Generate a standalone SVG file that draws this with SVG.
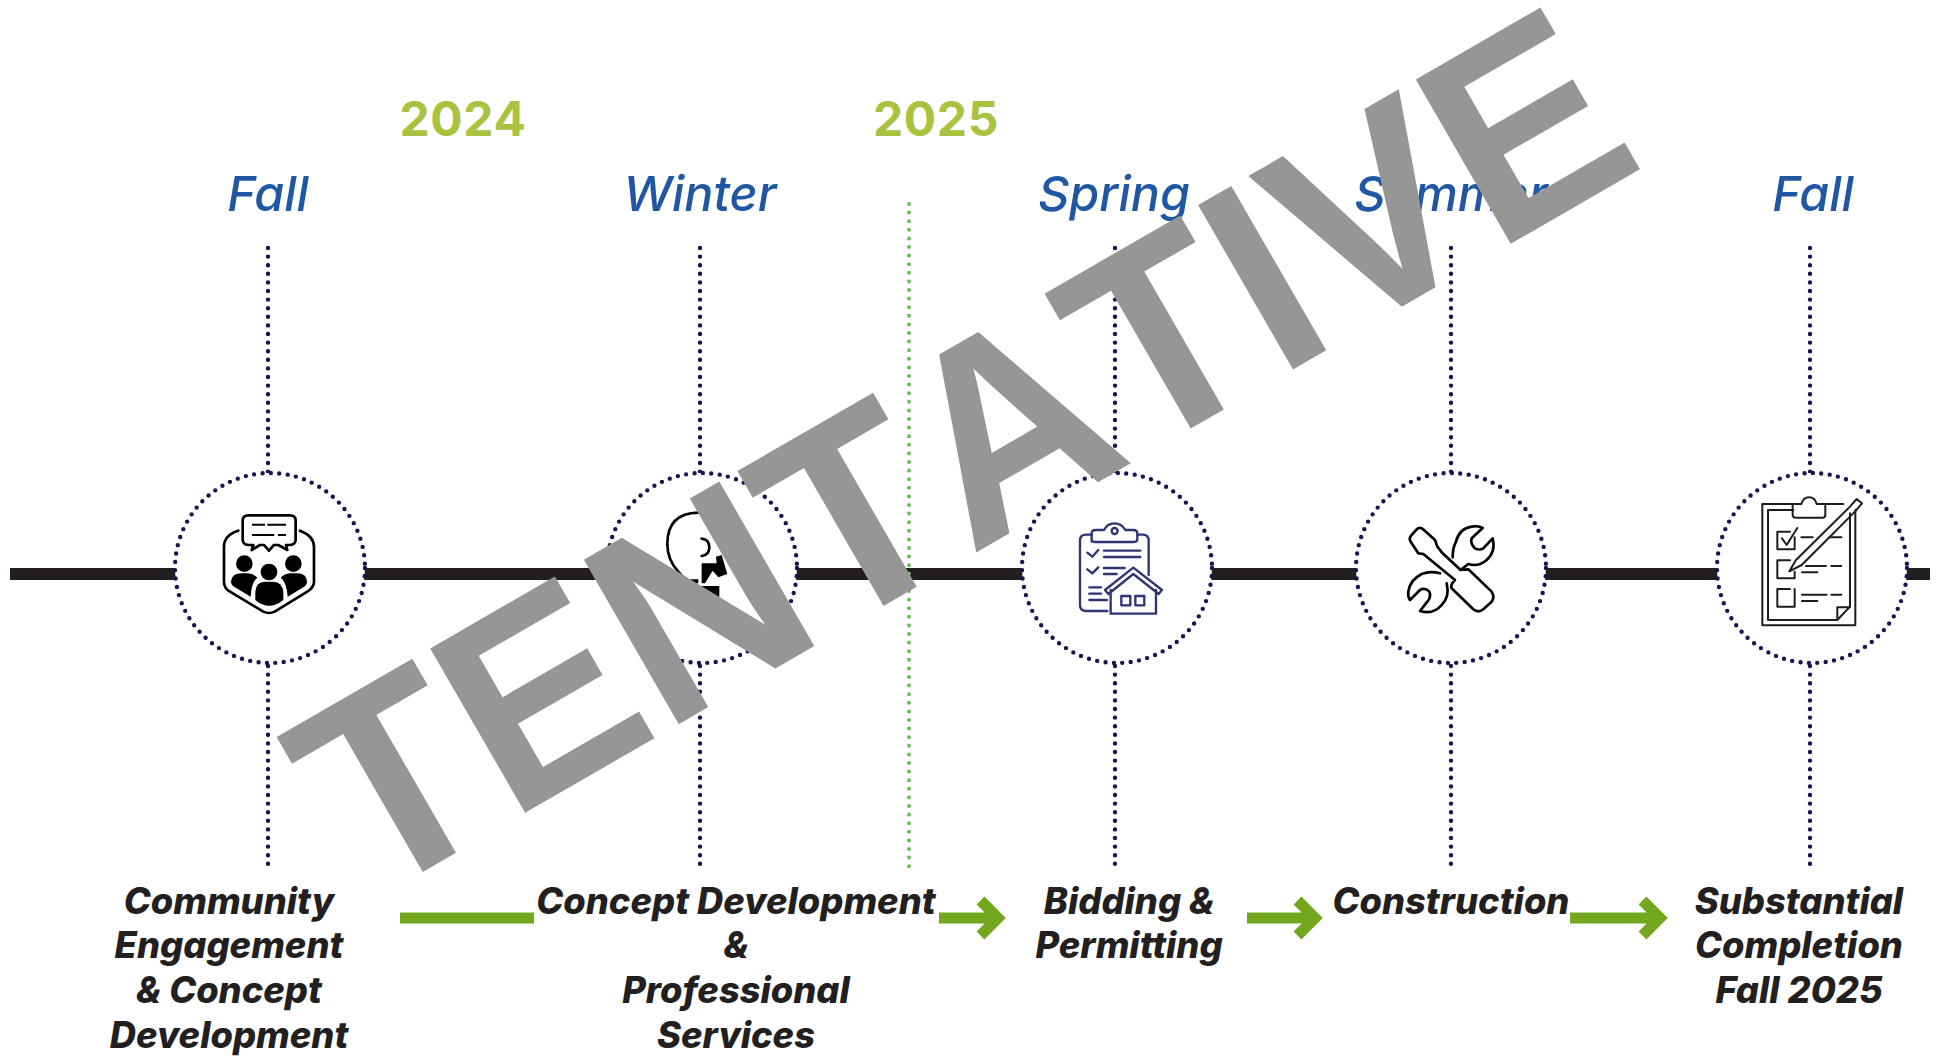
<svg xmlns="http://www.w3.org/2000/svg" width="1939" height="1056" viewBox="0 0 1939 1056">
<style>
.year{font:700 48px Inter,"Liberation Sans",sans-serif;letter-spacing:.6px;fill:#a9c23f;text-anchor:middle}
.season{font:italic 500 48.500px Inter,"Liberation Sans",sans-serif;fill:#1f57a4;text-anchor:middle}
.label{font:italic 800 36.300px Inter,"Liberation Sans",sans-serif;fill:#231f20;text-anchor:middle}
.v{stroke:#14154f;stroke-width:4.4;stroke-linecap:round;stroke-dasharray:0 8.6;fill:none}
.ring{stroke:#14154f;stroke-width:4.4;stroke-linecap:round;stroke-dasharray:0 8.45;fill:#fff}
.ar{stroke:#72a71e;stroke-width:11;fill:none;stroke-miterlimit:8}
.k{fill:none;stroke:#000;stroke-width:8;stroke-linecap:round;stroke-linejoin:round}
.n{fill:none;stroke:#2f3573;stroke-width:7;stroke-linecap:round;stroke-linejoin:round}
.d{fill:none;stroke:#1d1d1d;stroke-width:6;stroke-linecap:round;stroke-linejoin:round}
</style>
<g id="connectors">
<rect x="10" y="568" width="1920" height="12" fill="#231f20"/>
<path class="v" d="M268 248V472M268 666V869M700 248V472M700 666V869M1115 248V472M1115 666V869M1451 248V472M1451 666V869M1810 248V472M1810 666V869"/>
<path d="M909 204V869" stroke="#66c04e" stroke-width="4" stroke-linecap="round" stroke-dasharray="0 8.6" fill="none"/>
<path class="ar" d="M400 918H534"/>
<path class="ar" d="M939 918H1000M980.500 900.500L998 918 980.500 935.500"/>
<path class="ar" d="M1247 918H1317M1297.500 900.500L1315 918 1297.500 935.500"/>
<path class="ar" d="M1570 918H1662M1642.500 900.500L1660 918 1642.500 935.500"/>
</g>
<g id="years">
<text class="year" x="463" y="136">2024</text>
<text class="year" x="936" y="136">2025</text>
</g>
<g id="seasons">
<text class="season" x="268" y="211">Fall</text>
<text class="season" x="700" y="211">Winter</text>
<text class="season" x="1114" y="211">Spring</text>
<text class="season" x="1451" y="211">Summer</text>
<text class="season" x="1813" y="211">Fall</text>
</g>
<g id="node-community">
<circle class="ring" cx="270" cy="568" r="95"/>
<g transform="translate(150 450) scale(.3333)">
<path class="k" d="M265 242Q222 255 222 290V395Q222 415 240 425L340 485Q357 493 374 485L472 425Q492 412 492 395V290Q492 258 450 242"/>
<path class="k" fill="#fff" d="M295 196H420Q437 196 437 212V268Q437 285 420 285H408L412 300 385 285H372L357 302 342 285H330L305 300 310 285H295Q278 285 278 268V212Q278 196 295 196Z"/>
<path d="M306 224H345M352 224H408M306 255H373M384 255H408" stroke="#000" stroke-width="6" fill="none"/>
<circle cx="283" cy="341" r="25"/><circle cx="430" cy="341" r="25"/><circle cx="357" cy="366" r="25"/>
<path d="M243 395Q245 370 275 370H295Q312 372 322 383 305 395 302 440L255 412Q243 405 243 395Z"/>
<path d="M471 395Q470 370 440 370H420Q402 372 392 383 410 395 413 440L460 412Q471 405 471 395Z"/>
<path d="M316 425Q318 395 345 395H370Q397 397 400 425V450Q357 485 316 450Z"/>
</g>
</g>
<g id="node-concept">
<circle class="ring" cx="702" cy="568" r="95"/>
<g transform="translate(590 450) scale(.3333)">
<path class="k" fill="none" d="M290 395L265 365Q232 330 232 282 232 190 325 188"/>
<path class="k" stroke-width="7" d="M335 266Q358 268 358 292 358 316 335 318"/>
<path d="M335 340H380L378 320 395 315 412 372 385 382 368 362 345 400H335Z"/>
<path d="M295 388H325V400H295ZM330 408H388V440H330Z"/>
</g>
</g>
<g id="node-bidding">
<circle class="ring" cx="1117" cy="568" r="95"/>
<g transform="translate(1000 450) scale(.3333)">
<path class="n" d="M275 254H258Q240 254 240 272V465Q240 483 258 483H322M412 254H428Q446 254 446 272V375"/>
<path class="n" d="M275 275V250Q275 240 287 240H312Q322 220 343 220 365 220 376 240H400Q412 240 412 250V268Q412 276 402 276H285Q275 276 275 268Z"/>
<circle class="n" cx="344" cy="243" r="9"/>
<path class="n" d="M262 308L277 320 295 300M262 358L277 370 295 352M312 302H421M312 321H421M312 354H374M312 372H350M268 412H303M268 431H303M268 450H321"/>
<path class="n" d="M332 420V491H468V420M315 420L400 353 486 420 476 432 400 372 325 432Z"/>
<path class="n" d="M364 438H391V466H364ZM406 438H433V466H406Z"/>
</g>
</g>
<g id="node-construction">
<circle class="ring" cx="1451" cy="568" r="95"/>
<g transform="translate(1340 450) scale(.3333)">
<path class="k" stroke-width="6.500" fill="none" d="M232 236Q243 230 252 240L285 270 292 290 308 310 362 360 385 358 455 425Q465 440 455 455L430 478Q415 490 400 478L335 415Q330 405 345 390L250 312 235 310 212 275Q205 265 215 255ZM338 322Q338 295 348 275 358 235 395 230 415 226 428 234L395 265Q390 280 405 295 418 302 430 295L458 265Q468 305 440 330 415 352 385 342L368 355M300 370Q270 362 245 372 210 390 205 425 203 440 210 450L240 420Q255 412 268 425 275 440 262 455L240 483Q280 495 305 465 330 440 320 400"/>
</g>
</g>
<g id="node-completion">
<circle class="ring" cx="1812" cy="568" r="95"/>
<g transform="translate(1690 450) scale(.3333)">
<path class="d" d="M310 162H217V526H496V180M460 162H408M310 180H234V510H442L480 470V190M442 510V472H480"/>
<path class="d" d="M308 162V195Q308 203 318 203H398Q406 203 406 195V162H380Q375 142 357 142 340 142 334 162Z"/>
<path class="d" d="M300 245H262V298H314V262M276 265L290 285 322 234M334 262H368M418 262H454"/>
<path class="d" d="M300 331H262V385H314V365M348 348H408M424 348H454M336 367H382"/>
<path class="d" d="M300 417H262V470H314V417M336 434H410M424 434H454M336 453H382"/>
<path class="d" d="M298 364L318 330 480 170 500 147 516 160 495 185 335 345Z"/>
</g>
</g>
<g id="label-community">
<text class="label" x="229" y="914">Community</text><text class="label" x="229" y="958">Engagement</text><text class="label" x="229" y="1003">&amp; Concept</text><text class="label" x="229" y="1048">Development</text>
</g>
<g id="label-concept">
<text class="label" x="736" y="914">Concept Development</text><text class="label" x="736" y="958">&amp;</text><text class="label" x="736" y="1003">Professional</text><text class="label" x="736" y="1048">Services</text>
</g>
<g id="label-bidding">
<text class="label" x="1129" y="914">Bidding &amp;</text><text class="label" x="1129" y="958">Permitting</text>
</g>
<g id="label-construction">
<text class="label" x="1451" y="914">Construction</text>
</g>
<g id="label-completion">
<text class="label" x="1799" y="914">Substantial</text><text class="label" x="1799" y="958">Completion</text><text class="label" x="1799" y="1003">Fall 2025</text>
</g>
<text id="watermark" transform="translate(369 903) rotate(-30)" font-family="Liberation Sans,Arial,sans-serif" font-weight="700" font-size="276" fill="#969696" textLength="1478" lengthAdjust="spacingAndGlyphs" style="font-kerning:none">TENTATIVE</text>
</svg>
